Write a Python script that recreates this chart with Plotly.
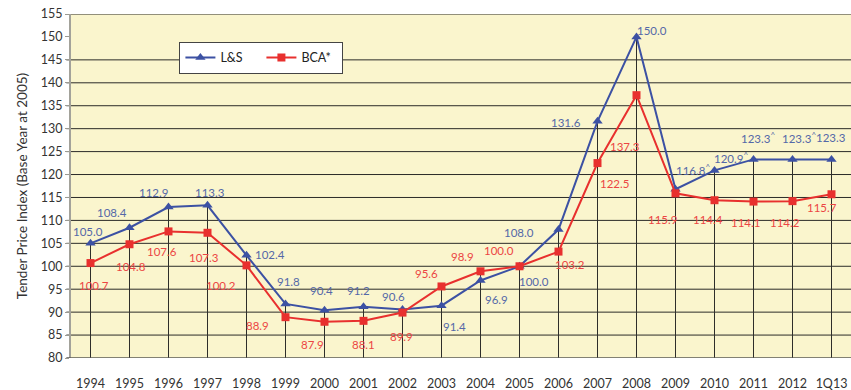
import plotly.graph_objects as go

# Tender price index series (base year 2005 = 100)
periods = ["1994", "1995", "1996", "1997", "1998", "1999", "2000", "2001", "2002", "2003",
           "2004", "2005", "2006", "2007", "2008", "2009", "2010", "2011", "2012", "1Q13"]
ls_values = [105.0, 108.4, 112.9, 113.3, 102.4, 91.8, 90.4, 91.2, 90.6, 91.4,
             96.9, 100.0, 108.0, 131.6, 150.0, 116.8, 120.9, 123.3, 123.3, 123.3]
bca_values = [100.7, 104.8, 107.6, 107.3, 100.2, 88.9, 87.9, 88.1, 89.9, 95.6,
              98.9, 100.0, 103.2, 122.5, 137.3, 115.9, 114.4, 114.1, 114.2, 115.7]
# L&S figures flagged with a caret
ls_flagged = [False] * 15 + [True, True, True, True, False]
y_ticks = list(range(80, 160, 5))

# label offsets in pixels (right, down) from each marker
ls_label_offsets = [(-3, -12), (-18, -15), (-15, -15), (2, -13), (23, -1), (3, -22), (-3, -20),
                    (-5, -16), (-9, -13), (13, 21), (16, 19), (14, 15), (-40, 3), (-32, 1),
                    (15, -6), (14, -20), (13, -13), (1, -22), (3, -22), (-1, -22)]
bca_label_offsets = [(3, 22), (1, 22), (-7, 20), (-4, 25), (-26, 20), (-28, 8), (-12, 23),
                     (0, 24), (-1, 24), (-15, -13), (-18, -15), (-21, -16), (11, 13), (17, 20),
                     (-12, 51), (-13, 26), (-7, 19), (-8, 21), (-8, 21), (-10, 13)]

BLUE = "#3C51A3"
RED = "#E8302E"
BLUE_TXT = "#5468A8"
RED_TXT = "#EC4543"
FONT = "Lato"
Y_MIN, Y_MAX = 80, 155

fig = go.Figure()

# drop lines from the higher of the two points down to the axis
drop_x, drop_y = [], []
for p, a, b in zip(periods, ls_values, bca_values):
    drop_x += [p, p, None]
    drop_y += [max(a, b), Y_MIN, None]
fig.add_trace(go.Scatter(x=drop_x, y=drop_y, mode="lines",
                         line=dict(color="#2e2e2a", width=1),
                         hoverinfo="skip", showlegend=False))

fig.add_trace(go.Scatter(x=periods, y=ls_values, name="L&S", mode="lines+markers",
                         line=dict(color=BLUE, width=2),
                         marker=dict(symbol="triangle-up", size=9, color=BLUE)))
fig.add_trace(go.Scatter(x=periods, y=bca_values, name="BCA*", mode="lines+markers",
                         line=dict(color=RED, width=2),
                         marker=dict(symbol="square", size=8, color=RED)))

# value labels; category positions are given by index so year-like names
# are not read as numbers
annotations = []
for i, (v, flag, (dx, dy)) in enumerate(zip(ls_values, ls_flagged, ls_label_offsets)):
    txt = f"{v:.1f}" + ("<sup>^</sup>" if flag else "")
    annotations.append(dict(x=i, y=v, text=txt, showarrow=False, xshift=dx + (3 if flag else 0),
                            yshift=-dy, font=dict(family=FONT, size=11.5, color=BLUE_TXT)))
for i, (v, (dx, dy)) in enumerate(zip(bca_values, bca_label_offsets)):
    annotations.append(dict(x=i, y=v, text=f"{v:.1f}", showarrow=False, xshift=dx,
                            yshift=-dy, font=dict(family=FONT, size=11.5, color=RED_TXT)))

# horizontal grid lines, reaching slightly past the y axis; 150 is left without one
shapes = []
for t in y_ticks:
    if t in (Y_MIN, 150):
        continue
    shapes.append(dict(type="line", xref="paper", yref="y", x0=-0.006, x1=1, y0=t, y1=t,
                       line=dict(color="#2b2b28", width=1), layer="below"))
shapes.append(dict(type="line", xref="paper", yref="y", x0=-0.006, x1=1, y0=Y_MIN, y1=Y_MIN,
                   line=dict(color="#5a5a55", width=1.5), layer="above"))

fig.update_layout(
    width=851, height=390,
    margin=dict(l=71, r=0, t=14, b=32),
    paper_bgcolor="white",
    plot_bgcolor="#FAF5CD",
    font=dict(family=FONT, size=12, color="#333333"),
    showlegend=True,
    legend=dict(orientation="h", x=0.139, y=0.919, xanchor="left", yanchor="top",
                bgcolor="white", bordercolor="#444444", borderwidth=1,
                font=dict(family=FONT, size=12.5, color="#222222"),
                entrywidth=36, itemwidth=30, tracegroupgap=0),
    annotations=annotations,
    shapes=shapes,
)
fig.update_xaxes(type="category", range=[-0.5, len(periods) - 0.5], showgrid=False,
                 showline=False, zeroline=False, ticks="outside", ticklen=14,
                 tickcolor="rgba(0,0,0,0)", tickfont=dict(family=FONT, size=12.5, color="#333333"))
fig.update_yaxes(range=[Y_MIN, Y_MAX], tickvals=y_ticks, showgrid=False, zeroline=False,
                 showline=True, linecolor="#a3a29a", linewidth=2,
                 ticks="outside", ticklen=4, tickcolor="#9a9a92",
                 tickfont=dict(family=FONT, size=12.5, color="#333333"),
                 title=dict(text="Tender Price Index (Base Year at 2005)",
                            font=dict(family=FONT, size=13.5, color="#333333"), standoff=10))

fig.write_html("out.html")
